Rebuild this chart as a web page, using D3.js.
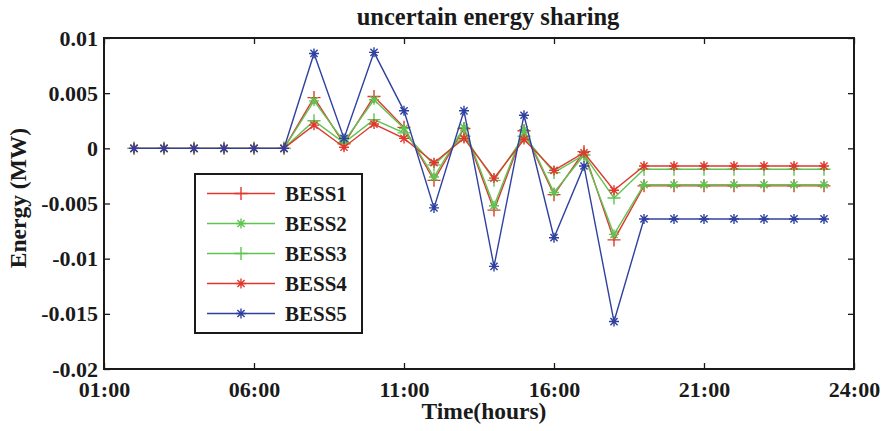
<!DOCTYPE html>
<html>
<head>
<meta charset="utf-8">
<script src="https://cdn.jsdelivr.net/npm/d3@7"></script>
<style>
  body { margin: 0; background: #fff; }
  svg text { font-family: "Liberation Serif", "Times New Roman", serif; font-weight: bold; fill: #1a1a1a; }
</style>
</head>
<body>
<div id="chart"></div>
<script>
// hour index of each sample (1..24)
const hours = d3.range(1, 25);
const flat = (v) => Array(7).fill(v);

const bess1 = [0, 0, 0, 0, 0, 0, 0.0046, 0.0004, 0.0047, 0.0019, -0.0029, 0.0018, -0.0056, 0.0016, -0.0042, -0.0003, -0.0083, ...flat(-0.0034)];
const bess2 = [0, 0, 0, 0, 0, 0, 0.0043, 0.0006, 0.0044, 0.0018, -0.0026, 0.0019, -0.0052, 0.0017, -0.0040, -0.0006, -0.0078, ...flat(-0.0033)];
const bess3 = [0, 0, 0, 0, 0, 0, 0.0025, 0.0005, 0.0026, 0.0014, -0.0015, 0.0011, -0.0029, 0.0011, -0.0022, -0.0006, -0.0045, ...flat(-0.0019)];
const bess4 = [0, 0, 0, 0, 0, 0, 0.0021, 0.0001, 0.0022, 0.0009, -0.0013, 0.0009, -0.0027, 0.0008, -0.0020, -0.0004, -0.0038, ...flat(-0.0016)];
const bess5 = [0, 0, 0, 0, 0, 0, 0.0086, 0.0009, 0.0087, 0.0034, -0.0054, 0.0034, -0.0107, 0.0030, -0.0081, -0.0016, -0.0157, ...flat(-0.0064)];

const seriesNames = ["BESS1", "BESS2", "BESS3", "BESS4", "BESS5"];
const seriesValues = [bess1, bess2, bess3, bess4, bess5];

const xTickValues = [0, 5, 10, 15, 20, 25];
const xTickLabels = ["01:00", "06:00", "11:00", "16:00", "21:00", "24:00"];
const yTickValues = [0.01, 0.005, 0, -0.005, -0.01, -0.015, -0.02];
const yTickLabels = ["0.01", "0.005", "0", "-0.005", "-0.01", "-0.015", "-0.02"];

const red = "#e1382d", green = "#5fc452", blue = "#2f41a0";
const styles = [
  { color: red, marker: "plus" },
  { color: green, marker: "star" },
  { color: green, marker: "plus" },
  { color: red, marker: "star" },
  { color: blue, marker: "star" },
];

const width = 886, height = 431;
const plot = { left: 104, right: 854, top: 38, bottom: 369 };

const svg = d3.select("#chart").append("svg")
  .attr("width", width).attr("height", height);

const x = d3.scaleLinear().domain([0, 25]).range([plot.left, plot.right]);
const y = d3.scaleLinear().domain([-0.02, 0.01]).range([plot.bottom, plot.top]);

// marker shapes
function markerPath(type) {
  if (type === "plus") return "M-6.5,0H6.5M0,-6.5V6.5";
  const d = 3.6;
  return `M-5,0H5M0,-5V5M${-d},${-d}L${d},${d}M${-d},${d}L${d},${-d}`;
}

// axes (ticks point inward, mirrored on top/right)
const fontSize = 22;
svg.append("g")
  .attr("transform", `translate(0,${plot.bottom})`)
  .call(d3.axisBottom(x).tickValues(xTickValues)
    .tickFormat((d, i) => xTickLabels[i]).tickSizeInner(-6).tickSizeOuter(0).tickPadding(12))
  .call((g) => g.select(".domain").remove())
  .call((g) => g.selectAll("text").style("font-size", fontSize + "px"));

svg.append("g")
  .attr("transform", `translate(0,${plot.top})`)
  .call(d3.axisTop(x).tickValues(xTickValues).tickFormat("").tickSizeInner(-6).tickSizeOuter(0))
  .call((g) => g.select(".domain").remove());

svg.append("g")
  .attr("transform", `translate(${plot.left},0)`)
  .call(d3.axisLeft(y).tickValues(yTickValues)
    .tickFormat((d, i) => yTickLabels[i]).tickSizeInner(-6).tickSizeOuter(0).tickPadding(6))
  .call((g) => g.select(".domain").remove())
  .call((g) => g.selectAll("text").style("font-size", fontSize + "px"));

svg.append("g")
  .attr("transform", `translate(${plot.right},0)`)
  .call(d3.axisRight(y).tickValues(yTickValues).tickFormat("").tickSizeInner(-6).tickSizeOuter(0))
  .call((g) => g.select(".domain").remove());

svg.selectAll(".tick line").attr("stroke", "#1a1a1a").attr("stroke-width", 1.3);

// plot frame
svg.append("rect")
  .attr("x", plot.left).attr("y", plot.top)
  .attr("width", plot.right - plot.left).attr("height", plot.bottom - plot.top)
  .attr("fill", "none").attr("stroke", "#1a1a1a").attr("stroke-width", 2);

// series
const line = d3.line().x((d, i) => x(hours[i])).y((d) => y(d));

seriesValues.forEach((vals, s) => {
  const st = styles[s];
  const g = svg.append("g").attr("class", "series");
  g.append("path")
    .attr("d", line(vals))
    .attr("fill", "none")
    .attr("stroke", st.color)
    .attr("stroke-width", 1.4);
  g.selectAll("path.marker")
    .data(vals)
    .enter()
    .append("path")
    .attr("class", "marker")
    .attr("transform", (d, i) => `translate(${x(hours[i])},${y(d)})`)
    .attr("d", markerPath(st.marker))
    .attr("fill", "none")
    .attr("stroke", st.color)
    .attr("stroke-width", 1.4);
});

// legend
const legend = svg.append("g").attr("transform", "translate(195,174)");
legend.append("rect")
  .attr("width", 167).attr("height", 159)
  .attr("fill", "#fff").attr("stroke", "#1a1a1a").attr("stroke-width", 2);

const rows = legend.selectAll("g.row")
  .data(seriesNames)
  .enter()
  .append("g")
  .attr("class", "row")
  .attr("transform", (d, i) => `translate(0,${19.5 + i * 30})`);

rows.append("line")
  .attr("x1", 12).attr("x2", 80)
  .attr("stroke", (d, i) => styles[i].color).attr("stroke-width", 1.4);
rows.append("path")
  .attr("transform", "translate(46,0)")
  .attr("d", (d, i) => markerPath(styles[i].marker))
  .attr("fill", "none")
  .attr("stroke", (d, i) => styles[i].color).attr("stroke-width", 1.4);
rows.append("text")
  .attr("x", 90).attr("dy", "0.34em")
  .style("font-size", "21px")
  .text((d) => d);

// title and axis labels
svg.append("text")
  .attr("x", 488).attr("y", 25)
  .attr("text-anchor", "middle")
  .style("font-size", "24.5px")
  .text("uncertain energy sharing");

svg.append("text")
  .attr("x", 484).attr("y", 419)
  .attr("text-anchor", "middle")
  .style("font-size", "23.5px")
  .text("Time(hours)");

svg.append("text")
  .attr("transform", "translate(25.5,198) rotate(-90)")
  .attr("text-anchor", "middle")
  .style("font-size", "23.5px")
  .text("Energy (MW)");
</script>
</body>
</html>
